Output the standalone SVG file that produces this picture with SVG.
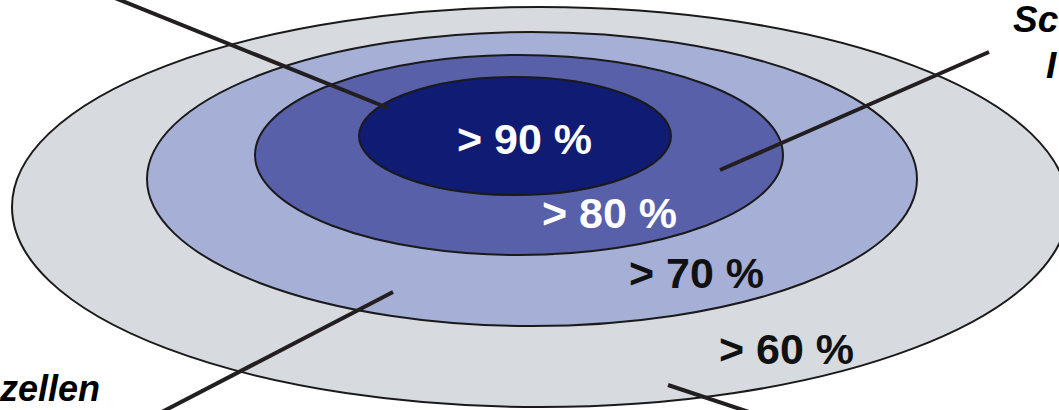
<svg xmlns="http://www.w3.org/2000/svg" width="1059" height="410" viewBox="0 0 1059 410">
<style>
.ring{stroke:#1a1a1a;stroke-width:2}
.pct{font-family:"Liberation Sans",Arial,sans-serif;font-weight:bold;font-size:43px}
.lbl{font-family:"Liberation Sans",Arial,sans-serif;font-weight:bold;font-style:italic;font-size:37px;fill:#000}
.conn{stroke:#231f20;stroke-width:4;fill:none}
</style>
<rect width="1059" height="410" fill="#ffffff"/>
<g id="ring60">
<ellipse class="ring" cx="540" cy="207" rx="528" ry="200" fill="#d7dadf"/>
</g>
<g id="ring70">
<ellipse class="ring" cx="532" cy="179" rx="385" ry="147" fill="#a6afd6"/>
</g>
<g id="ring80">
<ellipse class="ring" cx="519" cy="155" rx="264" ry="100" fill="#5760a8"/>
</g>
<g id="ring90">
<ellipse class="ring" cx="515" cy="136" rx="156" ry="59" fill="#101b73"/>
</g>
<g id="connectors">
<line class="conn" x1="115" y1="-2" x2="388" y2="108"/>
<line class="conn" x1="720" y1="170" x2="989" y2="52"/>
<line class="conn" x1="393" y1="292" x2="158" y2="414"/>
<line class="conn" x1="668" y1="385" x2="755" y2="414"/>
</g>
<g id="labels">
<text class="pct" x="457" y="154" fill="#ffffff">&gt; 90 %</text>
<text class="pct" x="542" y="228" fill="#ffffff">&gt; 80 %</text>
<text class="pct" x="629" y="288" fill="#111111">&gt; 70 %</text>
<text class="pct" x="719" y="364" fill="#111111">&gt; 60 %</text>
<text class="lbl" x="1013" y="32">Sc</text>
<text class="lbl" x="1046" y="78">I</text>
<text class="lbl" x="0" y="401" style="font-size:36px">zellen</text>
</g>
</svg>
